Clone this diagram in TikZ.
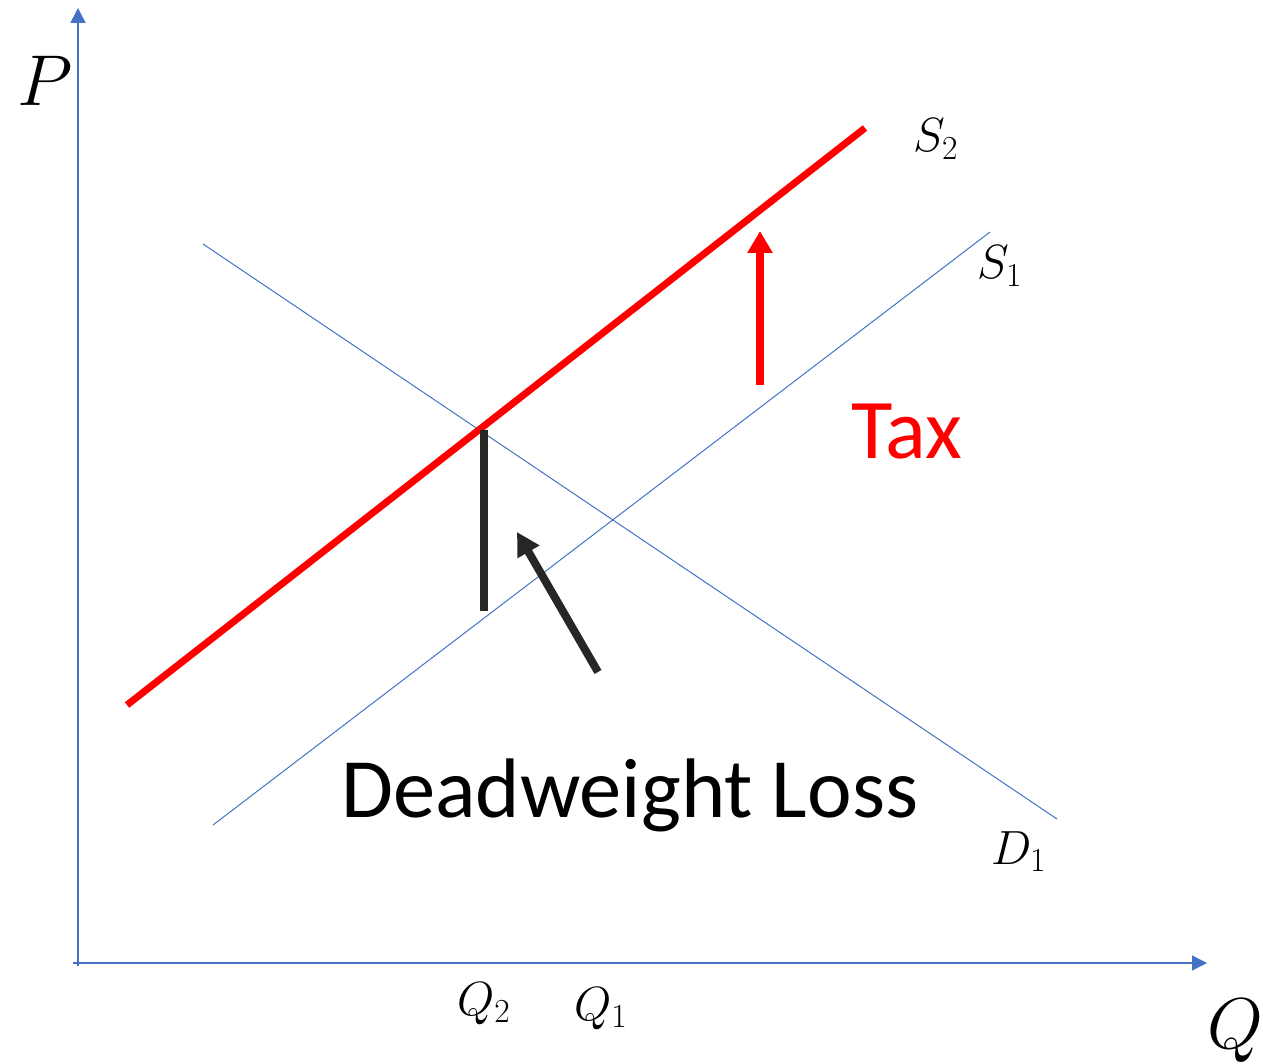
\RequirePackage{fix-cm}
\documentclass[tikz,border=0pt]{standalone}
\usepackage{fontspec}
\newfontfamily\calibri{Carlito}
\usetikzlibrary{arrows.meta}
\definecolor{axisblue}{HTML}{4472C4}
\definecolor{taxred}{HTML}{FF0000}
\definecolor{dark}{HTML}{262626}
\tikzset{
  axisline/.style={draw=axisblue, line width=1.5pt, -{Triangle[length=15pt,width=15pt]}},
  curve/.style={draw=axisblue, line width=1pt},
  taxcurve/.style={draw=taxred, line width=7pt},
  lbl/.style={inner sep=0pt, anchor=base west, font=\fontsize{48}{56}\selectfont},
  biglbl/.style={inner sep=0pt, anchor=base west, font=\fontsize{72}{86}\selectfont},
}
\begin{document}
\begin{tikzpicture}[x=1pt,y=-1pt]
\useasboundingbox (0,0) rectangle (1263,1064);
% axes
\coordinate (o) at (78,963);
\coordinate (ytop) at (78,8);
\coordinate (xend) at (1207,963);
\coordinate (xstart) at (73,963);
\draw[axisline] (78,966) -- (ytop);
\draw[axisline] (xstart) -- (xend);
% curves
\coordinate (d1a) at (203,244);
\coordinate (d1b) at (1057,819);
\coordinate (s1a) at (213,825);
\coordinate (s1b) at (990,232);
\coordinate (s2a) at (127,705);
\coordinate (s2b) at (865,128);
\draw[curve] (d1a) -- (d1b);
\draw[curve] (s1a) -- (s1b);
\draw[taxcurve] (s2a) -- (s2b);
% deadweight loss wedge line
\coordinate (e2) at (484,430);
\coordinate (e2low) at (484,611);
\draw[draw=dark, line width=8pt] (e2) -- (e2low);
% pointer arrow
\coordinate (ptail) at (598,672);
\coordinate (phead) at (517,532);
\draw[draw=dark, line width=8pt, -{Triangle[length=23pt,width=24pt]}] (ptail) -- (phead);
% tax arrow
\coordinate (ttail) at (760,385);
\coordinate (thead) at (760,231);
\draw[draw=taxred, line width=8pt, -{Triangle[length=22pt,width=24pt]}] (ttail) -- (thead);
% labels
\node[biglbl] (P) at (17,106) {$P$};
\node[biglbl, anchor=base east] (Q) at (1264,1048) {$Q$};
\node[lbl] (S2) at (913,152) {$S_2$};
\node[lbl] (S1) at (977,279) {$S_1$};
\node[lbl] (D1) at (991,864) {$D_1$};
\node[lbl] (Q2) at (457,1015) {$Q_2$};
\node[lbl] (Q1) at (574,1020) {$Q_1$};
\node[inner sep=0pt, anchor=base west, text=taxred, font=\calibri\fontsize{85}{100}\selectfont] (tax) at (851,458) {Tax};
\node[inner sep=0pt, anchor=base west, text=black, font=\calibri\fontsize{84.5}{100}\selectfont] (dwl) at (341,817) {Deadweight Loss};
\end{tikzpicture}
\end{document}
